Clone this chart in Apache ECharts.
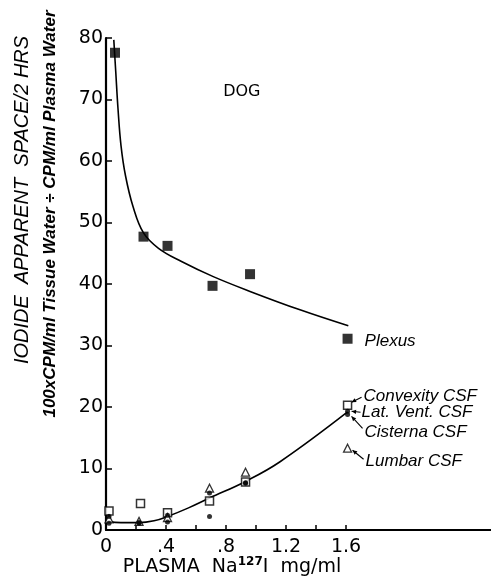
<!DOCTYPE html>
<html>
<head>
<meta charset="utf-8">
<script src="https://cdn.jsdelivr.net/npm/echarts@6/dist/echarts.min.js"></script>
<style>
html,body{margin:0;padding:0;background:#fff;}
#c{width:491px;height:580px;}
</style>
</head>
<body>
<div id="c"></div>
<script>
// ---- data ----
const xTickValues = [0, 0.4, 0.8, 1.2, 1.6];
const xTickLabels = ['0', '.4', '.8', '1.2', '1.6'];
const xMinorTicks = [0, 0.2, 0.4, 0.6, 0.8, 1.0, 1.2, 1.4, 1.6];
const yTickValues = [0, 10, 20, 30, 40, 50, 60, 70, 80];

const plexus = [[0.06, 77.6], [0.25, 47.7], [0.41, 46.2], [0.71, 39.7], [0.96, 41.6], [1.61, 31.1]];
const convexity = [[0.02, 3.1], [0.23, 4.3], [0.41, 2.8], [0.69, 4.7], [0.93, 7.8], [1.61, 20.3]];
const latVent = [[0.02, 2.2], [0.22, 1.2], [0.41, 2.4], [0.69, 2.2], [0.93, 7.7], [1.61, 19.3]];
const cisterna = [[0.02, 1.1], [0.22, 1.1], [0.41, 1.3], [0.69, 6.0], [0.93, 7.6], [1.61, 18.8]];
const lumbar = [[0.02, 1.8], [0.22, 1.4], [0.41, 2.0], [0.69, 6.8], [0.93, 9.4], [1.61, 13.3]];

const plexusCurve = [[0.052, 79.7], [0.065, 74.5], [0.08, 68.5], [0.1, 62.5], [0.13, 57.6], [0.18, 52.6],
  [0.25, 48.3], [0.35, 45.8], [0.5, 43.7], [0.715, 41.2], [0.96, 38.8], [1.293, 35.8], [1.615, 33.2]];
const csfCurve = [[0.01, 1.4], [0.1, 1.2], [0.22, 1.2], [0.32, 1.5], [0.41, 2.2], [0.55, 3.6],
  [0.69, 5.2], [0.93, 7.9], [1.16, 11.1], [1.61, 19.2]];

const seriesNames = ['Plexus', 'Convexity CSF', 'Lat. Vent. CSF', 'Cisterna CSF', 'Lumbar CSF'];
const annotationText = 'DOG';
const xTitle = ['PLASMA  Na', '127', 'I  mg/ml'];
const yTitle1 = 'IODIDE  APPARENT  SPACE/2 HRS';
const yTitle2 = '100xCPM/ml Tissue Water \u00F7 CPM/ml Plasma Water';

const chart = echarts.init(document.getElementById('c'), null, {renderer: 'canvas'});
const black = '#000';
const tickFont = {fontFamily: 'DejaVu Sans', fontSize: 19, color: black};

chart.setOption({
  backgroundColor: '#fff',
  animation: false,
  grid: {left: 106, right: 0, top: 38, bottom: 50, containLabel: false},
  xAxis: {
    type: 'value', min: 0, max: 2.566, interval: 0.2,
    splitLine: {show: false},
    axisLine: {show: true, onZero: false, lineStyle: {color: black, width: 2}},
    axisTick: {show: true, inside: true, length: 5, customValues: xMinorTicks, lineStyle: {color: black, width: 1.5}},
    axisLabel: Object.assign({margin: 8, customValues: xTickValues,
      formatter: v => { const i = xTickValues.findIndex(t => Math.abs(t - v) < 1e-6); return i >= 0 ? xTickLabels[i] : ''; }}, tickFont)
  },
  yAxis: {
    type: 'value', min: 0, max: 80, interval: 10,
    splitLine: {show: false},
    axisLine: {show: true, onZero: false, lineStyle: {color: black, width: 2.2}},
    axisTick: {show: true, inside: true, length: 6, lineStyle: {color: black, width: 1.5}},
    axisLabel: Object.assign({margin: 3}, tickFont)
  },
  series: [
    {type: 'line', data: plexusCurve, smooth: 0.4, showSymbol: false, symbol: 'none', lineStyle: {color: black, width: 1.6}, silent: true, z: 1},
    {type: 'line', data: csfCurve, smooth: 0.4, showSymbol: false, symbol: 'none', lineStyle: {color: black, width: 1.6}, silent: true, z: 1},
    {name: seriesNames[0], type: 'scatter', data: plexus, symbol: 'rect', symbolSize: 10, itemStyle: {color: black}, z: 3},
    {name: seriesNames[1], type: 'scatter', data: convexity, symbol: 'rect', symbolSize: 8, itemStyle: {color: '#fff', borderColor: black, borderWidth: 1.5}, z: 3},
    {name: seriesNames[2], type: 'scatter', data: latVent, symbol: 'circle', symbolSize: 5, itemStyle: {color: black}, z: 4},
    {name: seriesNames[3], type: 'scatter', data: cisterna, symbol: 'circle', symbolSize: 5, itemStyle: {color: black}, z: 4},
    {name: seriesNames[4], type: 'scatter', data: lumbar, symbol: 'triangle', symbolSize: 8, itemStyle: {color: '#fff', borderColor: black, borderWidth: 1.3}, z: 3}
  ]
});

// labels and arrows, positioned from the data through the chart's scales
function px(pt) { return chart.convertToPixel({gridIndex: 0}, pt); }
const labelFont = 'italic 17px "Liberation Sans"';
const pPlex = px(plexus[plexus.length - 1]);
const pConv = px(convexity[convexity.length - 1]);
const pLat = px(latVent[latVent.length - 1]);
const pCis = px(cisterna[cisterna.length - 1]);
const pLum = px(lumbar[lumbar.length - 1]);
const pDog = px([0.905, 71.3]);

function arrow(x1, y1, x2, y2) {
  const a = Math.atan2(y2 - y1, x2 - x1), L = 5, w = 0.45;
  return [
    {type: 'line', shape: {x1, y1, x2, y2}, style: {stroke: black, lineWidth: 1.1}},
    {type: 'polygon', shape: {points: [[x2, y2],
      [x2 - L * Math.cos(a - w), y2 - L * Math.sin(a - w)],
      [x2 - L * Math.cos(a + w), y2 - L * Math.sin(a + w)]]}, style: {fill: black}}
  ];
}
function label(text, x, y) {
  return {type: 'text', x, y, style: {text, font: labelFont, fill: black, textAlign: 'left', textVerticalAlign: 'middle'}};
}

const g = [
  label(seriesNames[0], pPlex[0] + 17, pPlex[1] + 3),
  label(seriesNames[1], pConv[0] + 16, pConv[1] - 9),
  label('Lat. Vent. CSF', pLat[0] + 14, pLat[1] + 1),
  label(seriesNames[3], pCis[0] + 17, pCis[1] + 18),
  label(seriesNames[4], pLum[0] + 18, pLum[1] + 13),
  ...arrow(pConv[0] + 14, pConv[1] - 8, pConv[0] + 4, pConv[1] - 3),
  ...arrow(pLat[0] + 13, pLat[1] + 1, pLat[0] + 4, pLat[1]),
  ...arrow(pCis[0] + 15, pCis[1] + 14, pCis[0] + 4, pCis[1] + 2),
  ...arrow(pLum[0] + 16, pLum[1] + 11, pLum[0] + 5, pLum[1] + 2),
  {type: 'text', x: pDog[0], y: pDog[1], style: {text: annotationText, font: '500 16px "DejaVu Sans"', fill: black, textAlign: 'center', textVerticalAlign: 'middle'}},
  {type: 'text', x: 232, y: 567, style: {
    text: '{a|' + xTitle[0] + '}{s|' + xTitle[1] + '}{a|' + xTitle[2] + '}',
    textAlign: 'center', textVerticalAlign: 'middle',
    rich: {
      a: {font: '19px "DejaVu Sans"', fill: black, color: black},
      s: {font: 'bold 12px "DejaVu Sans"', fill: black, color: black, verticalAlign: 'top', padding: [0, 0, 10, 0]}
    }}},
  {type: 'text', x: 22, y: 200, rotation: Math.PI / 2, style: {text: yTitle1, font: 'italic 20px "Liberation Sans"', fill: black, textAlign: 'center', textVerticalAlign: 'middle'}},
  {type: 'text', x: 50, y: 214, rotation: Math.PI / 2, style: {text: yTitle2, font: 'italic bold 17px "Liberation Sans"', fill: black, textAlign: 'center', textVerticalAlign: 'middle'}}
];
chart.setOption({graphic: g});
</script>
</body>
</html>
